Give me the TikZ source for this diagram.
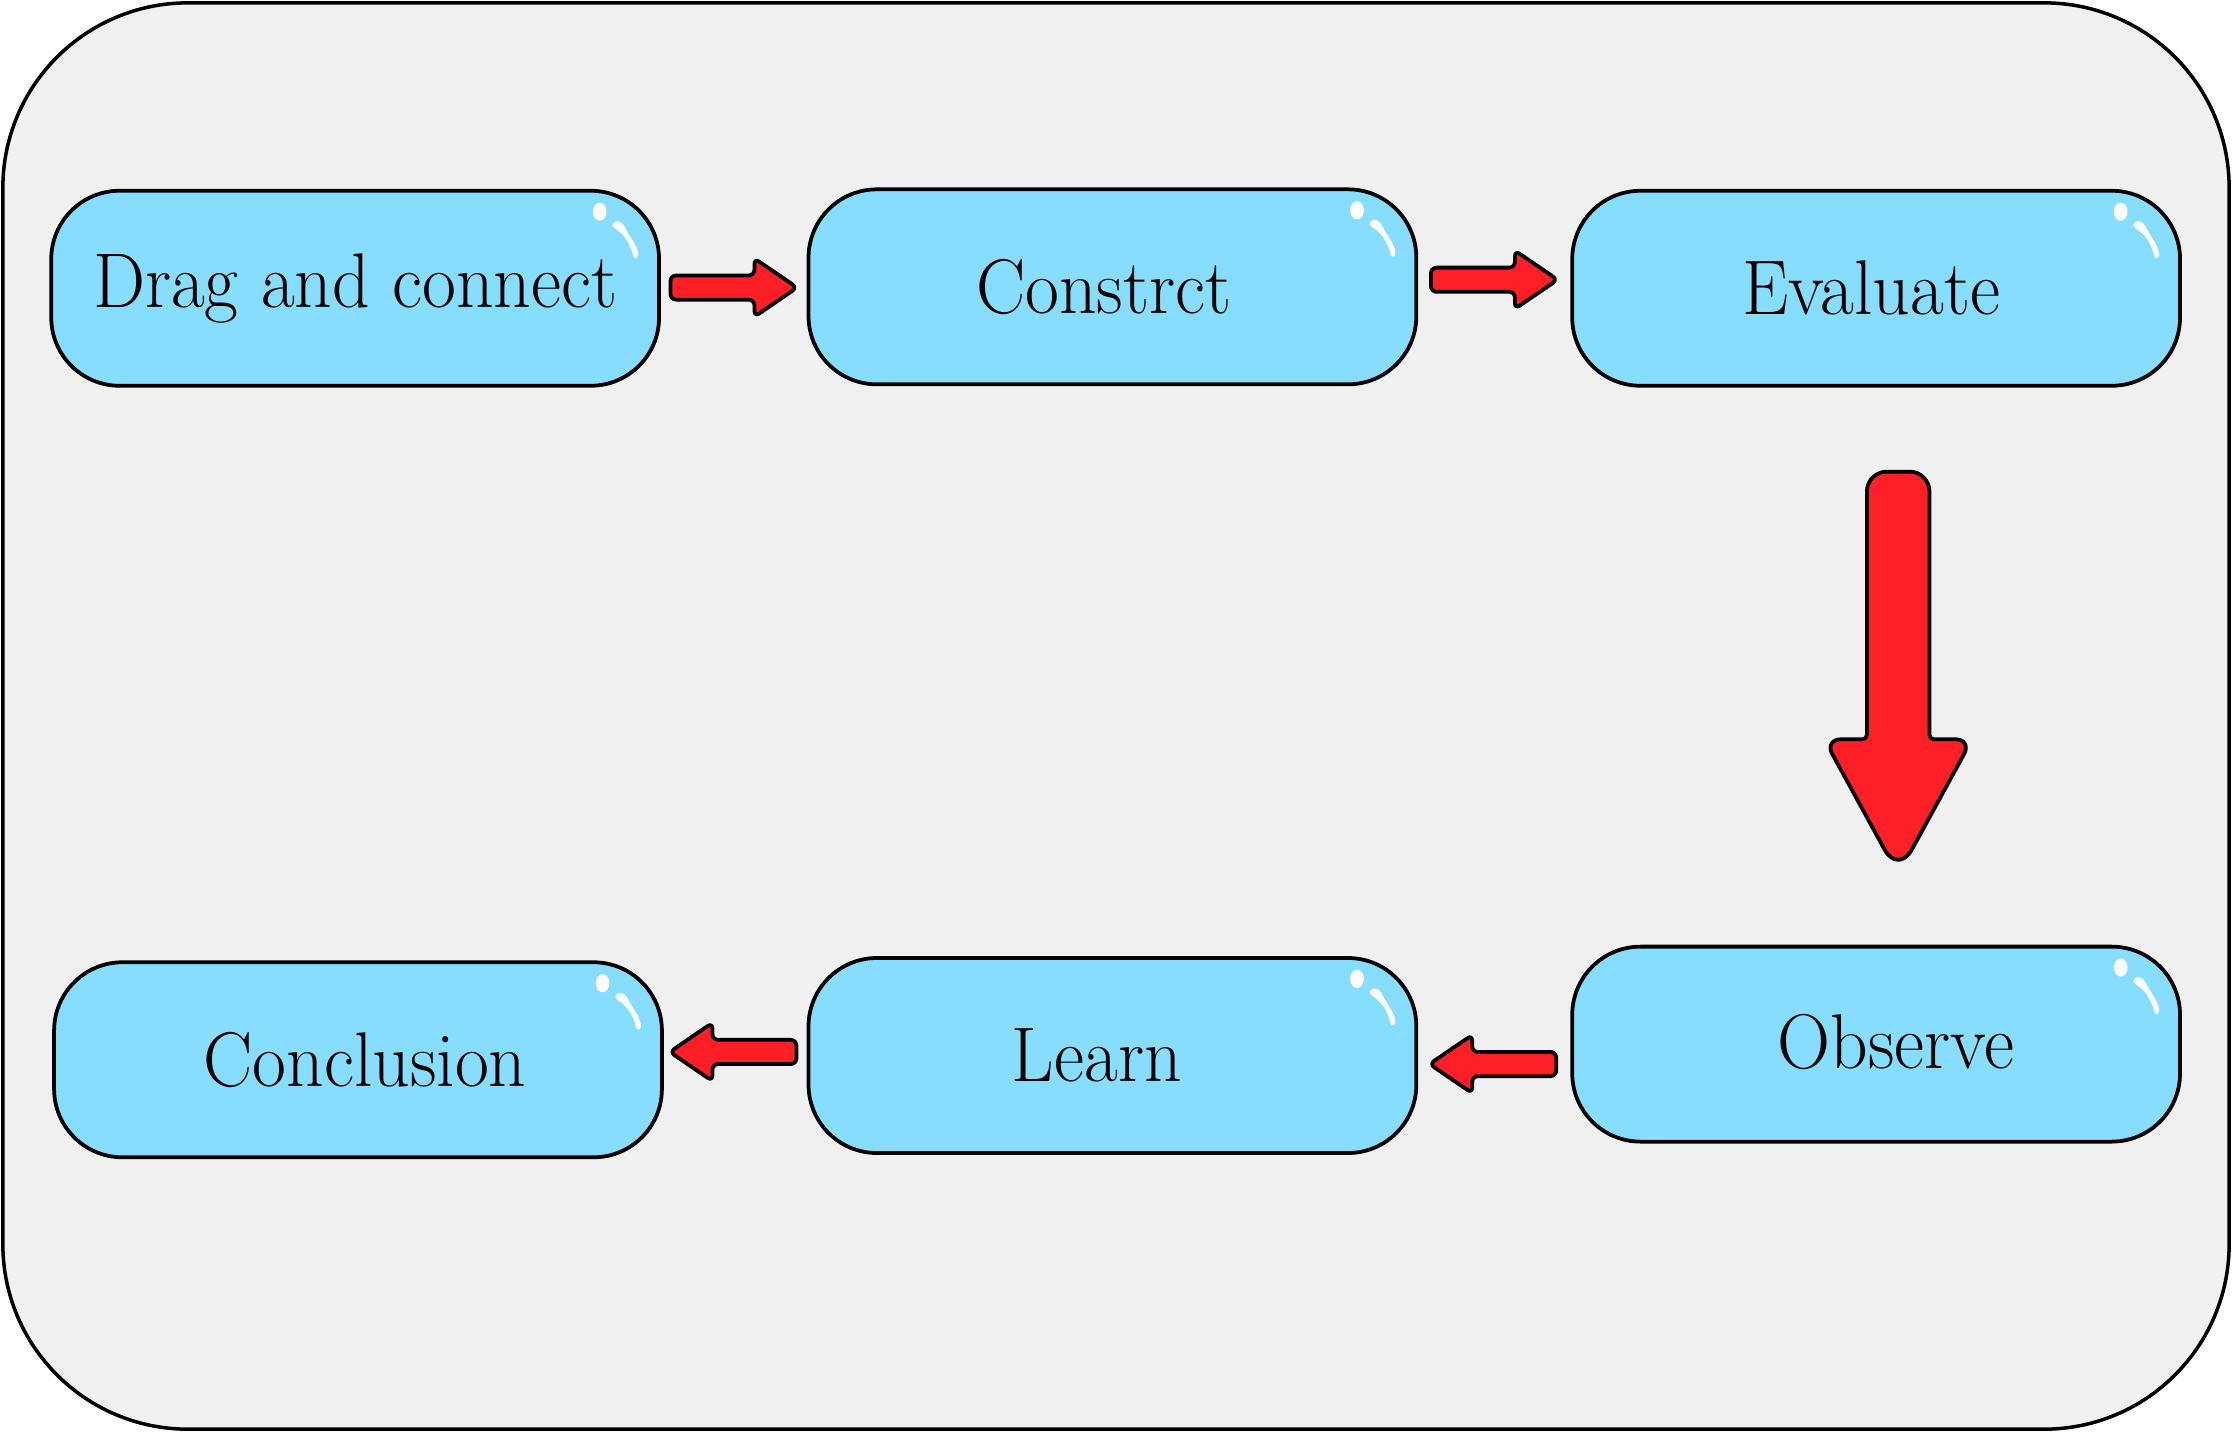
\documentclass[tikz,border=0pt]{standalone}
\usepackage{fontspec}
\usepackage{graphicx}
\usetikzlibrary{calc}
\definecolor{bgc}{HTML}{F0F0F0}
\definecolor{boxc}{HTML}{86DDFE}
\definecolor{redc}{HTML}{FF1F27}
\newcommand\sqz[1]{\scalebox{0.95}[1]{#1}}
\tikzset{
  stepbox/.style={draw=black, line width=0.75pt, fill=boxc, rounded corners=4.8mm,
    minimum width=42.7mm, minimum height=13.7mm, inner sep=0pt,
    font=\fontsize{15.5}{18}\selectfont},
  blockarrow/.style={draw=black, line width=0.75pt, fill=redc, line join=round}
}
\newcommand\boxshine[1]{%
  \fill[white, shift={(#1.north east)}] (-43,16) ellipse [x radius=0.48mm, y radius=0.64mm];
  \fill[white, shift={(#1.north east)}] (-33.5,24) .. controls (-31.5,21.5) and (-27,22.5) .. (-24.5,28.5)
     .. controls (-21,35) and (-16,41) .. (-16,46)
     .. controls (-16,49) and (-18.5,49.5) .. (-19.5,47)
     .. controls (-21,40) and (-25,33) .. (-30,29.5)
     .. controls (-33,27.5) and (-35,26) .. (-33.5,24) -- cycle;}
\newcommand\smallblock[2]{%
  \draw[blockarrow, rounded corners=0.4mm, shift={(#1)}, rotate=#2]
    (-44.5,-8.5) -- (14.5,-8.5) -- (14.5,-20.5) -- (44.5,0) -- (14.5,20.5) -- (14.5,8.5) -- (-44.5,8.5) -- cycle;}
\begin{document}
\begin{tikzpicture}[x=0.1mm, y=-0.1mm]
\useasboundingbox (0,0) rectangle (1568,1006);
\fill[white] (0,0) rectangle (1568,1006);
\draw[line width=0.7pt, fill=bgc, rounded corners=13mm] (2,2) rectangle (1566,1004);

\node[stepbox] (b1) at (249.5,202.5) {\sqz{Drag and connect}};
\node[stepbox] (b2) at (781.5,201.5) {\raisebox{-0.5mm}{\sqz{Constrct}}\hspace*{1.2mm}};
\node[stepbox] (b3) at (1318,202.5) {\sqz{Evaluate}\hspace*{0.7mm}};
\node[stepbox] (b4) at (1318,733.5) {\hspace*{2.8mm}\raisebox{0.4mm}{\sqz{Observe}}};
\node[stepbox] (b5) at (781.5,741.5) {\sqz{Learn}\hspace*{2.2mm}};
\node[stepbox] (b6) at (251.5,744.5) {\hspace*{1mm}\sqz{Conclusion}};

\boxshine{b1}\boxshine{b2}\boxshine{b3}\boxshine{b4}\boxshine{b5}\boxshine{b6}

\coordinate (a1) at ($(b1.east)!0.5!(b2.west)$);
\coordinate (a2) at ($(b2.east)!0.5!(b3.west)+(0,-5.5)$);
\coordinate (a5) at ($(b5.east)!0.5!(b4.west)+(-1,10)$);
\coordinate (a6) at ($(b6.east)!0.5!(b5.west)+(-1.5,-4)$);
\smallblock{a1}{0}
\smallblock{a2}{0}
\smallblock{a5}{180}
\smallblock{a6}{180}

\coordinate (bigtop) at ($(b3.south)+(15.5,59)$);
\draw[blockarrow, shift={(bigtop)}]
  (-22,100) [rounded corners=1.4mm] -- (-22,0) -- (22,0)
  [rounded corners=0.3mm] -- (22,188)
  [rounded corners=1.2mm] -- (52,188)
  [rounded corners=2mm] -- (0,283)
  [rounded corners=1.2mm] -- (-52,188)
  [rounded corners=0.3mm] -- (-22,188)
  [sharp corners] -- cycle;
\end{tikzpicture}
\end{document}
